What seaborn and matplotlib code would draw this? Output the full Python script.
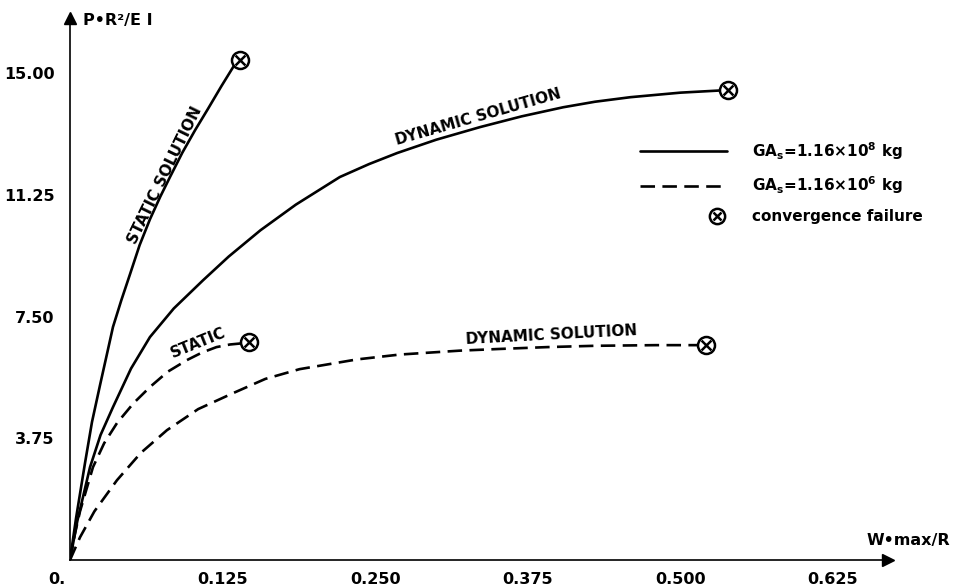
import matplotlib
matplotlib.use("Agg")
import matplotlib.pyplot as plt
import matplotlib.transforms as mtransforms
from matplotlib.lines import Line2D
from matplotlib.legend_handler import HandlerTuple, HandlerLine2D
import seaborn as sns
import pandas as pd

# Load-deflection curves: P*R^2/EI against w_max/R
static_stiff_x = [0, 0.005, 0.0123, 0.018, 0.0246, 0.030, 0.0352, 0.042, 0.0491, 0.057,
                  0.0655, 0.074, 0.0819, 0.092, 0.1024, 0.113, 0.124, 0.1335, 0.139]
static_stiff_y = [0, 1.3, 2.99, 4.25, 5.39, 6.3, 7.18, 8.0, 8.8, 9.7,
                  10.5, 11.2, 11.8, 12.55, 13.24, 13.9, 14.6, 15.18, 15.40]

dynamic_stiff_x = [0, 0.006, 0.0164, 0.025, 0.0352, 0.05, 0.0655, 0.085, 0.109, 0.13,
                   0.156, 0.185, 0.221, 0.245, 0.268, 0.30, 0.336, 0.37, 0.404, 0.43,
                   0.459, 0.50, 0.539]
dynamic_stiff_y = [0, 1.2, 2.86, 3.85, 4.71, 5.9, 6.87, 7.75, 8.62, 9.35,
                   10.16, 10.95, 11.80, 12.2, 12.54, 12.95, 13.34, 13.67, 13.95, 14.12,
                   14.26, 14.40, 14.48]

static_soft_x = [0, 0.004, 0.0082, 0.0188, 0.028, 0.0385, 0.052, 0.0655, 0.08, 0.0958,
                 0.108, 0.120, 0.131, 0.142, 0.147]
static_soft_y = [0, 0.8, 1.5, 2.86, 3.6, 4.22, 4.83, 5.33, 5.8, 6.16,
                 6.39, 6.56, 6.64, 6.68, 6.71]

dynamic_soft_x = [0, 0.0082, 0.02, 0.0385, 0.058, 0.0794, 0.105, 0.1335, 0.16, 0.188,
                  0.235, 0.27, 0.319, 0.35, 0.391, 0.43, 0.480, 0.521]
dynamic_soft_y = [0, 0.7, 1.5, 2.46, 3.3, 4.00, 4.65, 5.14, 5.58, 5.88,
                  6.18, 6.33, 6.45, 6.5, 6.56, 6.6, 6.62, 6.62]

x_ticks = [0, 0.125, 0.250, 0.375, 0.500, 0.625]
x_tick_labels = ["0.", "0.125", "0.250", "0.375", "0.500", "0.625"]
y_ticks = [3.75, 7.50, 11.25, 15.00]
y_tick_labels = ["3.75", "7.50", "11.25", "15.00"]

legend_labels = ["GA$_s$=1.16×10$^8$ kg", "GA$_s$=1.16×10$^6$ kg", "convergence failure"]

sns.set_theme(style="white")
plt.rcParams["font.family"] = ["DejaVu Sans"]
plt.rcParams["font.weight"] = "bold"
plt.rcParams["mathtext.default"] = "bf"
plt.rcParams["text.color"] = "black"
plt.rcParams["axes.labelcolor"] = "black"
plt.rcParams["xtick.color"] = "black"
plt.rcParams["ytick.color"] = "black"

fig = plt.figure(figsize=(9.56, 5.88), dpi=100)
ax = fig.add_axes([70 / 956, 28 / 588, 818 / 956, 542 / 588])
ax.set_xlim(0, 0.67)
ax.set_ylim(0, 16.7)

LW = 1.9
DASH = (5.5, 2.8)

curves = [
    (static_stiff_x, static_stiff_y, "solid"),
    (dynamic_stiff_x, dynamic_stiff_y, "solid"),
    (static_soft_x, static_soft_y, "dashed"),
    (dynamic_soft_x, dynamic_soft_y, "dashed"),
]
for xs, ys, style in curves:
    df = pd.DataFrame({"x": xs, "y": ys})
    line_ax = sns.lineplot(data=df, x="x", y="y", sort=False, estimator=None,
                           color="black", linewidth=LW, ax=ax)
    ln = line_ax.get_lines()[-1]
    if style == "dashed":
        ln.set_dashes(DASH)
    ln.set_solid_capstyle("round")
    ln.set_solid_joinstyle("round")
    ln.set_dash_capstyle("butt")

# convergence-failure markers at the curve ends
end_df = pd.DataFrame({
    "x": [xs[-1] for xs, _, _ in curves],
    "y": [ys[-1] for _, ys, _ in curves],
})
sns.scatterplot(data=end_df, x="x", y="y", marker="o", s=150, facecolor="white",
                edgecolor="black", linewidth=1.8, zorder=5, ax=ax)
sns.scatterplot(data=end_df, x="x", y="y", marker="x", s=50, color="black",
                linewidth=1.8, zorder=6, ax=ax)

# curve labels
lab_kw = dict(fontsize=11, fontweight="bold", ha="center", va="center",
              rotation_mode="anchor", color="black")
ax.text(0.0778, 11.86, "STATIC SOLUTION", rotation=64, **lab_kw)
ax.text(0.334, 13.64, "DYNAMIC SOLUTION", rotation=16, **lab_kw)
ax.text(0.105, 6.68, "STATIC", rotation=22, **lab_kw)
ax.text(0.394, 6.93, "DYNAMIC SOLUTION", rotation=3, **lab_kw)

# axes: only left and bottom spines, with arrow heads
sns.despine(ax=ax)
for s in ("left", "bottom"):
    ax.spines[s].set_linewidth(1.2)
    ax.spines[s].set_color("black")
ax.plot(1, 0, ">", color="black", markersize=8, transform=ax.transAxes, clip_on=False)
ax.plot(0, 1, "^", color="black", markersize=8, transform=ax.transAxes, clip_on=False)

ax.set_xticks(x_ticks)
ax.set_xticklabels(x_tick_labels)
ax.set_yticks(y_ticks)
ax.set_yticklabels(y_tick_labels)
ax.tick_params(axis="both", direction="in", length=5, width=1.2, color="black",
               labelsize=11.5, labelcolor="black")
ax.tick_params(axis="x", pad=9)
ax.tick_params(axis="y", pad=11)
for t in ax.get_xticklabels() + ax.get_yticklabels():
    t.set_fontweight("bold")
# the origin label sits a little to the left of the corner
shift = mtransforms.ScaledTranslation(-13 / 100, 0, fig.dpi_scale_trans)
ax.get_xticklabels()[0].set_transform(ax.get_xticklabels()[0].get_transform() + shift)
ax.set_xlabel("")
ax.set_ylabel("")

fig.text(83 / 956, 1 - 21 / 588, "P•R²/E I", fontsize=11.5, fontweight="bold",
         ha="left", va="center")
fig.text(867 / 956, 1 - 540 / 588, "W•max/R", fontsize=11.5, fontweight="bold",
         ha="left", va="center")


class RightMarkerHandler(HandlerLine2D):
    """Place the single legend marker near the right end of the handle box."""

    def get_xdata(self, legend, xdescent, ydescent, width, height, fontsize):
        right = -xdescent + width
        xdata = [right - 10, right - 4]
        return xdata, [right - 7]


# legend
h_solid = Line2D([], [], color="black", linewidth=LW)
h_dash = Line2D([], [], color="black", linewidth=LW, dashes=DASH)
h_circ = Line2D([], [], marker="o", markersize=11, markerfacecolor="white",
                markeredgecolor="black", markeredgewidth=1.8, linestyle="none")
h_x = Line2D([], [], marker="x", markersize=6, color="black",
             markeredgewidth=1.8, linestyle="none")
leg = ax.legend([h_solid, h_dash, (h_circ, h_x)], legend_labels,
                handler_map={tuple: HandlerTuple(ndivide=1, pad=0),
                             h_circ: RightMarkerHandler(numpoints=1),
                             h_x: RightMarkerHandler(numpoints=1)},
                loc="upper left", bbox_to_anchor=(640 / 956, 1 - 140 / 588),
                bbox_transform=fig.transFigure, frameon=False, fontsize=11,
                handlelength=5.7, handletextpad=1.6, labelspacing=0.85,
                borderpad=0, borderaxespad=0)
for t in leg.get_texts():
    t.set_fontweight("bold")
    t.set_color("black")

fig.savefig("out.png", dpi=100, facecolor="white")
